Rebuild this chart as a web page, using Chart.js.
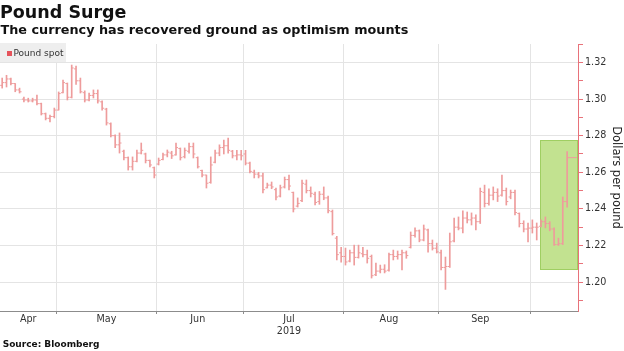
<!DOCTYPE html>
<html>
<head>
<meta charset="utf-8">
<script src="https://cdn.jsdelivr.net/npm/chart.js@4.4.1/dist/chart.umd.min.js"></script>
<style>
  body { margin: 0; background: #fff; }
  #wrap { position: relative; width: 624px; height: 351px; overflow: hidden; background: #fff; }
  #chart { position: absolute; left: 0; top: 0; }
  .txt { position: absolute; font-family: 'DejaVu Sans', Verdana, sans-serif; line-height: 1; white-space: nowrap; color: #111; }
  .title { left: 0; top: 4.3px; font-size: 17.5px; font-weight: bold; }
  .subtitle { left: 0.5px; top: 23.7px; font-size: 12.8px; font-weight: bold; }
  .legend { left: 0; top: 43px; width: 66px; height: 19px; background: #eeeeee; }
  .legend .swatch { position: absolute; left: 7px; top: 7.5px; width: 5px; height: 5px; background: #e5535b; }
  .legend .label { position: absolute; left: 13.5px; top: 6.4px; font-size: 9px; color: #333; }
  .source { left: 2.7px; top: 339.9px; font-size: 9px; font-weight: bold; }
</style>
</head>
<body>
<div id="wrap">
  <canvas id="chart" width="624" height="351"></canvas>
  <div class="txt title">Pound Surge</div>
  <div class="txt subtitle">The currency has recovered ground as optimism mounts</div>
  <div class="txt legend"><span class="swatch"></span><span class="txt label">Pound spot</span></div>
  <div class="txt source">Source: Bloomberg</div>
</div>
<script>
// ------------------------------------------------
// Data: GBP/USD daily bars, Apr 12 - Oct 11 2019
// ------------------------------------------------

// trading days per month (weekdays), the last two are empty
const aprDays = [12, 15, 16, 17, 18, 19, 22, 23, 24, 25, 26, 29, 30];
const mayDays = [1, 2, 3, 6, 7, 8, 9, 10, 13, 14, 15, 16, 17, 20, 21, 22, 23, 24, 27, 28, 29, 30, 31];
const junDays = [3, 4, 5, 6, 7, 10, 11, 12, 13, 14, 17, 18, 19, 20, 21, 24, 25, 26, 27, 28];
const julDays = [1, 2, 3, 4, 5, 8, 9, 10, 11, 12, 15, 16, 17, 18, 19, 22, 23, 24, 25, 26, 29, 30, 31];
const augDays = [1, 2, 5, 6, 7, 8, 9, 12, 13, 14, 15, 16, 19, 20, 21, 22, 23, 26, 27, 28, 29, 30];
const sepDays = [2, 3, 4, 5, 6, 9, 10, 11, 12, 13, 16, 17, 18, 19, 20, 23, 24, 25, 26, 27, 30];
const octDays = [1, 2, 3, 4, 7, 8, 9, 10, 11, 14, 15];

const opens = [
  1.3075, 1.3090, 1.3110, 1.3085, 1.3050, 1.3000, 1.2995, 1.2990, 1.2995, 1.2975, 1.2920, 1.2895, 1.2905,
  1.2940, 1.3035, 1.3085, 1.3010, 1.3165, 1.3100, 1.3035, 1.2995, 1.3020, 1.3030, 1.2985, 1.2945, 1.2865,
  1.2800, 1.2750, 1.2715, 1.2680, 1.2630, 1.2660, 1.2705, 1.2700, 1.2665, 1.2625,
  1.2645, 1.2670, 1.2695, 1.2705, 1.2695, 1.2730, 1.2685, 1.2715, 1.2740, 1.2680, 1.2610, 1.2585, 1.2545,
  1.2655, 1.2705, 1.2735, 1.2745, 1.2715, 1.2690, 1.2695,
  1.2700, 1.2650, 1.2600, 1.2590, 1.2580, 1.2515, 1.2530, 1.2505, 1.2470, 1.2520, 1.2560, 1.2490, 1.2415,
  1.2445, 1.2535, 1.2500, 1.2480, 1.2440, 1.2480, 1.2460, 1.2385, 1.2240, 1.2160,
  1.2140, 1.2115, 1.2160, 1.2135, 1.2155, 1.2150, 1.2140, 1.2040, 1.2060, 1.2070, 1.2065, 1.2150, 1.2140,
  1.2150, 1.2160, 1.2190, 1.2255, 1.2280, 1.2230, 1.2285, 1.2210, 1.2185,
  1.2160, 1.2080, 1.2085, 1.2225, 1.2300, 1.2295, 1.2350, 1.2340, 1.2350, 1.2330, 1.2490, 1.2430, 1.2475,
  1.2490, 1.2475, 1.2500, 1.2465, 1.2490, 1.2375, 1.2320, 1.2290,
  1.2295, 1.2300, 1.2305, 1.2330, 1.2320, 1.2290, 1.2205, 1.2210, 1.2440
];
const highs = [
  1.3115, 1.3130, 1.3115, 1.3085, 1.3060, 1.3011, 1.3005, 1.3005, 1.3022, 1.2978, 1.2924, 1.2913, 1.2951,
  1.3039, 1.3104, 1.3088, 1.3186, 1.3180, 1.3115, 1.3045, 1.3033, 1.3050, 1.3050, 1.2990, 1.2950, 1.2870,
  1.2805, 1.2815, 1.2722, 1.2684, 1.2684, 1.2722, 1.2760, 1.2705, 1.2667, 1.2629,
  1.2678, 1.2705, 1.2722, 1.2715, 1.2760, 1.2733, 1.2733, 1.2760, 1.2760, 1.2684, 1.2612, 1.2585, 1.2684,
  1.2722, 1.2750, 1.2776, 1.2787, 1.2720, 1.2720, 1.2720,
  1.2720, 1.2656, 1.2612, 1.2600, 1.2596, 1.2541, 1.2547, 1.2514, 1.2530, 1.2574, 1.2585, 1.2492, 1.2460,
  1.2558, 1.2558, 1.2520, 1.2492, 1.2495, 1.2520, 1.2470, 1.2394, 1.2250, 1.2190,
  1.2186, 1.2175, 1.2202, 1.2202, 1.2190, 1.2175, 1.2148, 1.2104, 1.2093, 1.2095, 1.2159, 1.2175, 1.2170,
  1.2175, 1.2170, 1.2274, 1.2296, 1.2285, 1.2312, 1.2290, 1.2230, 1.2213,
  1.2175, 1.2137, 1.2268, 1.2350, 1.2356, 1.2390, 1.2383, 1.2378, 1.2367, 1.2514, 1.2530, 1.2510, 1.2520,
  1.2510, 1.2585, 1.2514, 1.2503, 1.2503, 1.2378, 1.2335, 1.2323,
  1.2340, 1.2323, 1.2340, 1.2356, 1.2330, 1.2296, 1.2240, 1.2465, 1.2713
];
const lows = [
  1.3060, 1.3066, 1.3077, 1.3040, 1.3033, 1.2984, 1.2984, 1.2984, 1.2968, 1.2913, 1.2886, 1.2875, 1.2897,
  1.2940, 1.3033, 1.2995, 1.3006, 1.3080, 1.3033, 1.2984, 1.2990, 1.3006, 1.2978, 1.2940, 1.2858, 1.2793,
  1.2735, 1.2705, 1.2667, 1.2612, 1.2612, 1.2656, 1.2700, 1.2651, 1.2629, 1.2569,
  1.2640, 1.2667, 1.2684, 1.2675, 1.2694, 1.2667, 1.2678, 1.2705, 1.2678, 1.2623, 1.2574, 1.2514, 1.2540,
  1.2651, 1.2690, 1.2700, 1.2705, 1.2678, 1.2667, 1.2667,
  1.2640, 1.2596, 1.2569, 1.2569, 1.2487, 1.2514, 1.2510, 1.2449, 1.2465, 1.2514, 1.2503, 1.2383, 1.2410,
  1.2440, 1.2487, 1.2465, 1.2421, 1.2425, 1.2450, 1.2378, 1.2257, 1.2121, 1.2109,
  1.2093, 1.2110, 1.2093, 1.2131, 1.2137, 1.2104, 1.2022, 1.2035, 1.2050, 1.2050, 1.2060, 1.2121, 1.2125,
  1.2066, 1.2130, 1.2186, 1.2246, 1.2220, 1.2225, 1.2164, 1.2175, 1.2159,
  1.2066, 1.1960, 1.2080, 1.2220, 1.2285, 1.2268, 1.2323, 1.2312, 1.2285, 1.2320, 1.2410, 1.2420, 1.2449,
  1.2440, 1.2470, 1.2421, 1.2455, 1.2367, 1.2301, 1.2274, 1.2219,
  1.2268, 1.2230, 1.2301, 1.2296, 1.2280, 1.2200, 1.2200, 1.2205, 1.2410
];
const closes = [
  1.3090, 1.3110, 1.3085, 1.3050, 1.3040, 1.2995, 1.2990, 1.2995, 1.2975, 1.2920, 1.2895, 1.2905, 1.2940,
  1.3030, 1.3090, 1.3010, 1.3170, 1.3100, 1.3040, 1.2995, 1.3020, 1.3030, 1.2990, 1.2950, 1.2870, 1.2800,
  1.2750, 1.2760, 1.2680, 1.2630, 1.2660, 1.2705, 1.2720, 1.2665, 1.2640, 1.2585,
  1.2665, 1.2695, 1.2710, 1.2690, 1.2735, 1.2680, 1.2720, 1.2740, 1.2700, 1.2630, 1.2585, 1.2540, 1.2640,
  1.2705, 1.2735, 1.2745, 1.2720, 1.2690, 1.2695, 1.2690,
  1.2650, 1.2605, 1.2590, 1.2580, 1.2505, 1.2530, 1.2520, 1.2465, 1.2515, 1.2560, 1.2525, 1.2400, 1.2430,
  1.2540, 1.2500, 1.2485, 1.2435, 1.2480, 1.2460, 1.2390, 1.2265, 1.2150, 1.2140,
  1.2110, 1.2160, 1.2135, 1.2160, 1.2150, 1.2130, 1.2035, 1.2060, 1.2070, 1.2060, 1.2150, 1.2140, 1.2150,
  1.2160, 1.2145, 1.2255, 1.2280, 1.2230, 1.2290, 1.2210, 1.2185, 1.2165,
  1.2080, 1.2085, 1.2220, 1.2300, 1.2295, 1.2350, 1.2340, 1.2350, 1.2330, 1.2495, 1.2430, 1.2475, 1.2490,
  1.2470, 1.2500, 1.2440, 1.2490, 1.2380, 1.2320, 1.2290, 1.2295,
  1.2300, 1.2300, 1.2330, 1.2320, 1.2290, 1.2205, 1.2210, 1.2440, 1.2680
];

// month labels sit near the middle of each month
const monthLabelDays = ['2019-04-22', '2019-05-16', '2019-06-14', '2019-07-15', '2019-08-15', '2019-09-13'];
const monthLabelText = ['Apr', 'May', 'Jun', ['Jul', '2019'], 'Aug', 'Sep'];

// y axis range and highlighted window
const yMin = 1.1842;
const yMax = 1.3301;
const highlightFrom = '2019-10-03';
const highlightLow = 1.2068;
const highlightHigh = 1.2778;

// ------------------------------------------------
// Build categories
// ------------------------------------------------

const pad = n => String(n).padStart(2, '0');
const tradingDays = [].concat(
  aprDays.map(d => '2019-04-' + pad(d)),
  mayDays.map(d => '2019-05-' + pad(d)),
  junDays.map(d => '2019-06-' + pad(d)),
  julDays.map(d => '2019-07-' + pad(d)),
  augDays.map(d => '2019-08-' + pad(d)),
  sepDays.map(d => '2019-09-' + pad(d)),
  octDays.map(d => '2019-10-' + pad(d))
);

// first trading day of each month gets a grid line
const monthStarts = tradingDays
  .map((d, i) => (i > 0 && d.slice(5, 7) !== tradingDays[i - 1].slice(5, 7)) ? i : -1)
  .filter(i => i >= 0);

const barColor = '#ee9c9c';
const axisRed = '#e8727a';
const gridGray = '#e4e4e4';
const font = { family: "'DejaVu Sans', Verdana, sans-serif", size: 9.6 };

// ------------------------------------------------
// Plugins
// ------------------------------------------------

// green box behind the latest bars
const highlightBox = {
  id: 'highlightBox',
  beforeDatasetsDraw(chart) {
    const { ctx, chartArea, scales: { x, y } } = chart;
    const left = Math.round(x.getPixelForValue(tradingDays.indexOf(highlightFrom))) - 1;
    const top = Math.round(y.getPixelForValue(highlightHigh));
    const bottom = Math.round(y.getPixelForValue(highlightLow));
    ctx.save();
    ctx.fillStyle = '#c2e290';
    ctx.fillRect(left, top, chartArea.right - left, bottom - top);
    ctx.strokeStyle = '#9fce62';
    ctx.lineWidth = 1;
    ctx.strokeRect(left + 0.5, top + 0.5, chartArea.right - left - 1, bottom - top - 1);
    ctx.restore();
  }
};

// open (left) and close (right) ticks on each bar,
// the latest close runs on to the axis
const ohlcTicks = {
  id: 'ohlcTicks',
  afterDatasetsDraw(chart) {
    const { ctx, chartArea, scales: { x, y } } = chart;
    const last = opens.length - 1;
    ctx.save();
    ctx.strokeStyle = barColor;
    ctx.lineWidth = 1;
    ctx.beginPath();
    opens.forEach((open, i) => {
      const px = x.getPixelForValue(i);
      const yo = y.getPixelForValue(open);
      const yc = y.getPixelForValue(closes[i]);
      ctx.moveTo(px - 2, yo);
      ctx.lineTo(px, yo);
      ctx.moveTo(px, yc);
      ctx.lineTo(i === last ? chartArea.right - 1 : px + 2, yc);
    });
    ctx.stroke();
    ctx.restore();
  }
};

// ------------------------------------------------
// Chart
// ------------------------------------------------

const isMajor = v => v != null && Math.round(v * 100) % 2 === 0;

new Chart(document.getElementById('chart'), {
  type: 'bar',
  data: {
    labels: tradingDays,
    datasets: [{
      label: 'Pound spot',
      data: lows.map((low, i) => [low, highs[i]]),
      backgroundColor: barColor,
      barThickness: 1,
      borderWidth: 0
    }]
  },
  options: {
    responsive: false,
    animation: false,
    devicePixelRatio: 1,
    layout: { padding: { top: 44, bottom: 10, left: 0, right: 0 } },
    plugins: {
      legend: { display: false },
      tooltip: { enabled: false }
    },
    scales: {
      x: {
        offset: true,
        grid: {
          offset: true,
          color: c => monthStarts.includes(c.index) ? gridGray : 'rgba(0,0,0,0)',
          tickColor: c => monthStarts.includes(c.index) ? '#8c8c8c' : 'rgba(0,0,0,0)',
          tickLength: 3
        },
        border: { color: '#8c8c8c' },
        ticks: {
          autoSkip: false,
          maxRotation: 0,
          padding: 0,
          color: '#333',
          font: font,
          callback: function(value, index) {
            const k = monthLabelDays.indexOf(tradingDays[index]);
            return k >= 0 ? monthLabelText[k] : '';
          }
        },
        afterFit: scale => { scale.height = 30; }
      },
      y: {
        position: 'right',
        min: yMin,
        max: yMax,
        border: { color: axisRed },
        grid: {
          color: c => (c.tick && isMajor(c.tick.value)) ? gridGray : 'rgba(0,0,0,0)',
          tickColor: axisRed,
          tickLength: 5
        },
        ticks: {
          stepSize: 0.01,
          includeBounds: false,
          autoSkip: false,
          padding: 2,
          color: '#333',
          font: font,
          callback: value => isMajor(value) ? value.toFixed(2) : ''
        },
        title: {
          display: true,
          text: 'Dollars per pound',
          color: '#222',
          font: { family: font.family, size: 11.5 },
          padding: { top: 1, bottom: 0 }
        },
        afterFit: scale => { scale.width = 46; }
      }
    }
  },
  plugins: [highlightBox, ohlcTicks]
});
</script>
</body>
</html>
